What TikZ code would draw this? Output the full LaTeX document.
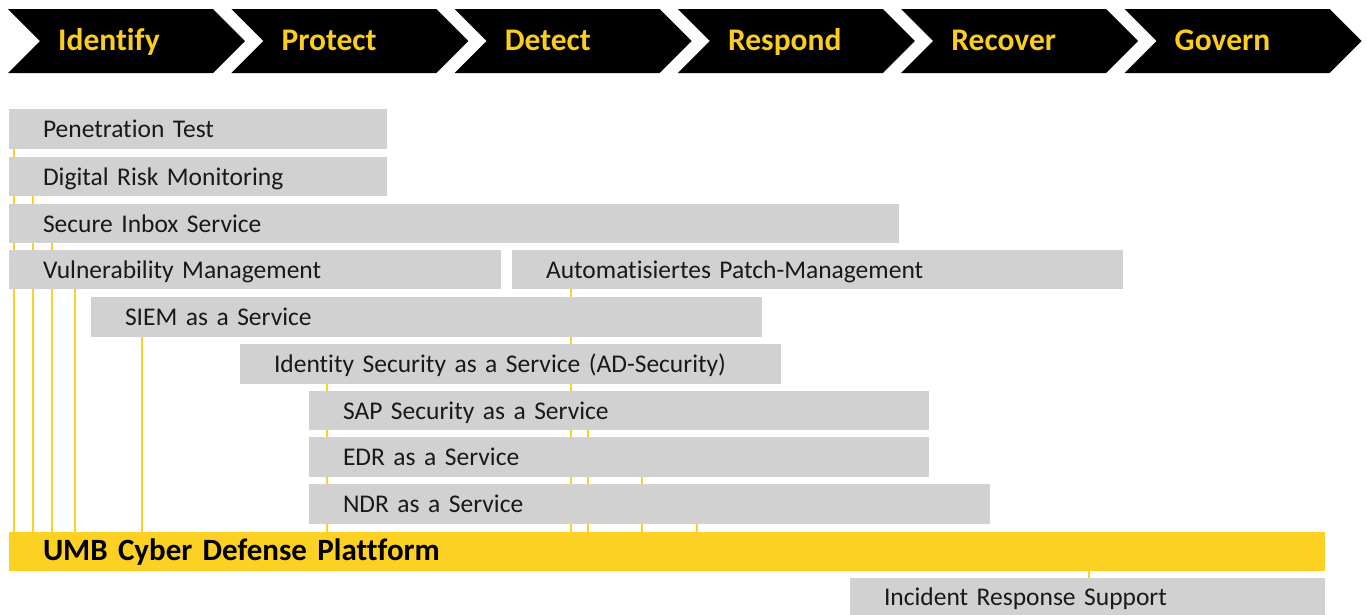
\documentclass[tikz,border=0pt]{standalone}
\usepackage{fontspec}
\setmainfont{Carlito}[Ligatures={NoCommon}]
\pgfdeclarelayer{bottom}
\pgfdeclarelayer{background}
\pgfsetlayers{bottom,background,main}
\definecolor{barGray}{RGB}{208,209,208}
\definecolor{umbYellow}{RGB}{253,209,35}
\definecolor{hdrYellow}{RGB}{250,205,30}
\definecolor{txtDark}{RGB}{25,25,25}
\tikzset{
  svc/.style={fill=barGray, draw=none, inner xsep=34pt, inner ysep=0pt, align=left,
    text height=17pt, text depth=0pt,
    font=\fontsize{25.5}{28}\selectfont, text=txtDark},
  umbbox/.style={svc, fill=umbYellow, font=\fontsize{31}{34}\selectfont\bfseries, text=black},
  hdrtext/.style={anchor=base west, inner sep=0pt, font=\fontsize{31.5}{34}\selectfont\bfseries, text=hdrYellow},
  link/.style={draw=umbYellow, line width=1.1pt}
}
\newcommand{\svcbar}[7][svc]{%
  \pgfmathsetmacro\svcW{#5-#3}\pgfmathsetmacro\svcH{#6-#4}\pgfmathsetmacro\svcT{#5-#3-68}%
  \node[#1, minimum width=\svcW pt, minimum height=\svcH pt, text width=\svcT pt] (#2) at ({(#3+#5)/2},{(#4+#6)/2}) {#7};}
\newcommand{\chev}[3]{%
  \fill[black] (#2,9) -- ({#2+205},9) -- ({#2+237},41) -- ({#2+205},73) -- (#2,73) -- ({#2+32},41) -- cycle;
  \node[hdrtext] (#1) at ({#2+50},50) {#3};}
\begin{document}
\begin{tikzpicture}[x=1pt,y=-1pt]
\useasboundingbox (0,0) rectangle (1367,614);
\begin{pgfonlayer}{bottom}
\fill[white] (0,0) rectangle (1367,614);
\end{pgfonlayer}
% header chevrons
\chev{hid}{8}{Identify}
\chev{hpr}{231.3}{Protect}
\chev{hde}{454.6}{Detect}
\chev{hre}{677.9}{Respond}
\chev{hrc}{901.2}{Recover}
\chev{hgo}{1124.5}{Govern}
% service bars
\svcbar{pen}{9}{109}{387}{149}{Penetration Test}
\svcbar{drm}{9}{157}{387}{196}{Digital Risk Monitoring}
\svcbar{sis}{9}{204}{899}{243}{Secure Inbox Service}
\svcbar{vul}{9}{250}{501}{289}{Vulnerability Management}
\svcbar{apm}{512}{250}{1123}{289}{Automatisiertes Patch-Management}
\svcbar{siem}{91}{297}{762}{337}{SIEM as a Service}
\svcbar{ids}{240}{344}{781}{384}{Identity Security as a Service (AD-Security)}
\svcbar{sap}{309}{391}{929}{430}{SAP Security as a Service}
\svcbar{edr}{309}{437}{929}{477}{EDR as a Service}
\svcbar{ndr}{309}{484}{990}{524}{NDR as a Service}
\svcbar[umbbox]{umb}{9}{532}{1325}{571}{UMB Cyber Defense Plattform}
\svcbar{irs}{850}{578}{1325}{616}{Incident Response Support}
% connectors (behind the bars)
\coordinate (x1) at (14,0);
\coordinate (x2) at (33,0);
\coordinate (x3) at (52,0);
\coordinate (x4) at (75,0);
\coordinate (x5) at (142,0);
\coordinate (x6) at (327,0);
\coordinate (x7) at (571,0);
\coordinate (x8) at (588,0);
\coordinate (x9) at (642,0);
\coordinate (x10) at (697,0);
\coordinate (x11) at (1089,0);
\begin{pgfonlayer}{background}
\draw[link] (x1 |- pen.south) -- (x1 |- umb.north);
\draw[link] (x2 |- drm.south) -- (x2 |- umb.north);
\draw[link] (x3 |- sis.south) -- (x3 |- umb.north);
\draw[link] (x4 |- vul.south) -- (x4 |- umb.north);
\draw[link] (x5 |- siem.south) -- (x5 |- umb.north);
\draw[link] (x6 |- ids.south) -- (x6 |- umb.north);
\draw[link] (x7 |- apm.south) -- (x7 |- umb.north);
\draw[link] (x8 |- sap.south) -- (x8 |- umb.north);
\draw[link] (x9 |- edr.south) -- (x9 |- umb.north);
\draw[link] (x10 |- ndr.south) -- (x10 |- umb.north);
\draw[link] (x11 |- umb.south) -- (x11 |- irs.north);
\end{pgfonlayer}
\end{tikzpicture}
\end{document}
